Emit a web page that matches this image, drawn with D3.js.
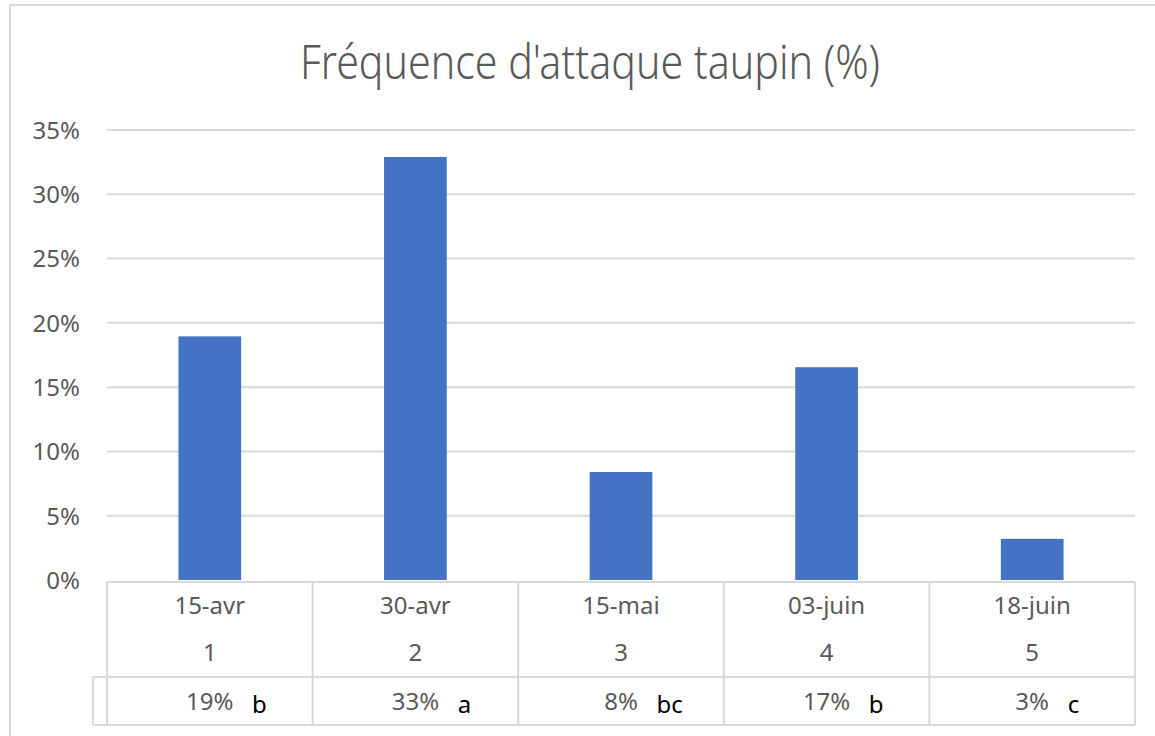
<!DOCTYPE html>
<html>
<head>
<meta charset="utf-8">
<script src="https://cdn.jsdelivr.net/npm/d3@7"></script>
<style>
  body { margin: 0; background: #fff; }
  text { font-family: "Noto Sans", "Open Sans", sans-serif; }
</style>
</head>
<body>
<svg id="chart" width="1155" height="736"></svg>
<script>
// chart data
const dates = ["15-avr", "30-avr", "15-mai", "03-juin", "18-juin"];
const numbers = ["1", "2", "3", "4", "5"];
const values = [0.1895, 0.329, 0.084, 0.1655, 0.032];
const valueLabels = ["19%", "33%", "8%", "17%", "3%"];
const letters = ["b", "a", "bc", "b", "c"];
const yTicks = [0, 0.05, 0.10, 0.15, 0.20, 0.25, 0.30, 0.35];

const svg = d3.select('#chart');
const grey = '#d9d9d9';
const textColor = '#595959';

const plotLeft = 107, plotRight = 1135, plotTop = 130, plotBottom = 580;

// outer chart border
svg.append('rect')
  .attr('x', 10).attr('y', 5)
  .attr('width', 1200).attr('height', 800)
  .attr('fill', 'none')
  .attr('stroke', grey)
  .attr('stroke-width', 2);

svg.append('text')
  .attr('x', 590)
  .attr('y', 79)
  .attr('text-anchor', 'middle')
  .attr('fill', textColor)
  .attr('font-family', '"Open Sans", sans-serif')
  .attr('font-weight', 300)
  .attr('font-size', 48)
  .attr('textLength', 580)
  .attr('lengthAdjust', 'spacingAndGlyphs')
  .text("Fréquence d'attaque taupin (%)");

const xScale = d3.scaleBand()
  .domain(dates)
  .range([plotLeft, plotRight])
  .padding(0);

const yScale = d3.scaleLinear()
  .domain([0, 0.35])
  .range([plotBottom, plotTop]);

// gridlines
svg.append('g')
  .selectAll('line')
  .data(yTicks.filter(t => t > 0))
  .enter()
  .append('line')
  .attr('x1', plotLeft).attr('x2', plotRight)
  .attr('y1', d => yScale(d)).attr('y2', d => yScale(d))
  .attr('stroke', grey)
  .attr('stroke-width', 2);

// y axis labels
const yAxis = svg.append('g')
  .attr('transform', `translate(${plotLeft - 27}, 0)`)
  .call(d3.axisLeft(yScale).tickValues(yTicks).tickFormat(d3.format('.0%')).tickSize(0).tickPadding(0));
yAxis.select('.domain').remove();
yAxis.selectAll('text')
  .attr('font-family', '"Noto Sans", sans-serif')
  .attr('font-size', 24)
  .attr('fill', textColor)
  .attr('dy', '0.35em');

// bars
const barW = xScale.bandwidth() * 0.305;
svg.append('g')
  .selectAll('rect')
  .data(values)
  .enter()
  .append('rect')
  .attr('x', (d, i) => xScale(dates[i]) + (xScale.bandwidth() - barW) / 2)
  .attr('y', d => yScale(d))
  .attr('width', barW)
  .attr('height', d => yScale(0) - yScale(d))
  .attr('fill', '#4472C4');

// data table below axis
const rowTop = plotBottom + 2, rowSplit = 677, rowBottom = 725, extLeft = 93;
const table = svg.append('g')
  .attr('stroke', grey)
  .attr('stroke-width', 2)
  .attr('fill', 'none');

table.append('line').attr('x1', plotLeft).attr('x2', plotRight).attr('y1', rowTop).attr('y2', rowTop);
table.append('line').attr('x1', extLeft).attr('x2', plotRight).attr('y1', rowSplit).attr('y2', rowSplit);
table.append('line').attr('x1', extLeft).attr('x2', plotRight).attr('y1', rowBottom).attr('y2', rowBottom);
table.append('line').attr('x1', extLeft).attr('x2', extLeft).attr('y1', rowSplit).attr('y2', rowBottom);

const edges = dates.map(d => xScale(d)).concat([plotRight]);
table.selectAll('.vline')
  .data(edges)
  .enter()
  .append('line')
  .attr('class', 'vline')
  .attr('x1', d => d).attr('x2', d => d)
  .attr('y1', rowTop).attr('y2', rowBottom);

const center = i => xScale(dates[i]) + xScale.bandwidth() / 2;

svg.append('g')
  .selectAll('text')
  .data(dates)
  .enter()
  .append('text')
  .attr('x', (d, i) => center(i))
  .attr('y', 614)
  .attr('text-anchor', 'middle')
  .attr('font-size', 24)
  .attr('fill', textColor)
  .text(d => d);

svg.append('g')
  .selectAll('text')
  .data(numbers)
  .enter()
  .append('text')
  .attr('x', (d, i) => center(i))
  .attr('y', 661)
  .attr('text-anchor', 'middle')
  .attr('font-size', 24)
  .attr('fill', textColor)
  .text(d => d);

const valRow = svg.append('g');
valueLabels.forEach((v, i) => {
  valRow.append('text')
    .attr('x', center(i))
    .attr('y', 710)
    .attr('text-anchor', 'middle')
    .attr('font-size', 24)
    .attr('fill', textColor)
    .text(v);
  const w = v.length * 13.5;
  valRow.append('text')
    .attr('x', center(i) + w / 2 + 22)
    .attr('y', 713)
    .attr('font-family', '"Liberation Sans", sans-serif')
    .attr('font-size', 24)
    .attr('fill', '#000')
    .text(letters[i]);
});
</script>
</body>
</html>
